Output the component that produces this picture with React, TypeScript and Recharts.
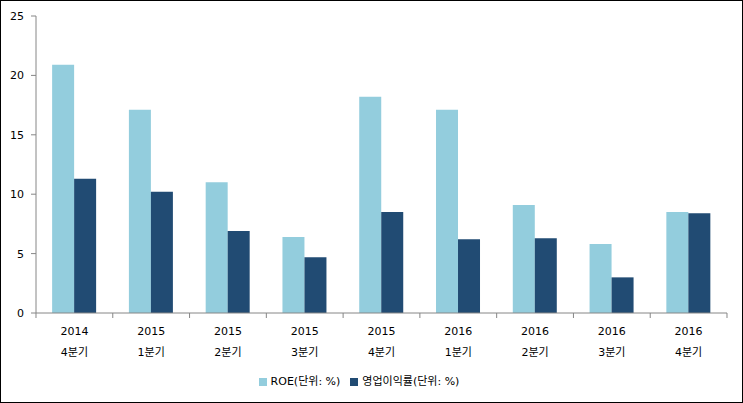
import React from "react";
import {
  BarChart,
  Bar,
  XAxis,
  YAxis,
  Legend,
} from "recharts";

// 분기 라벨 (연도 / 분기)
const years = ["2014", "2015", "2015", "2015", "2015", "2016", "2016", "2016", "2016"];
const quarters = ["4분기", "1분기", "2분기", "3분기", "4분기", "1분기", "2분기", "3분기", "4분기"];

// 값 (단위: %)
const roe = [20.9, 17.1, 11.0, 6.4, 18.2, 17.1, 9.1, 5.8, 8.5];
const opMargin = [11.3, 10.2, 6.9, 4.7, 8.5, 6.2, 6.3, 3.0, 8.4];

const yTicks = [0, 5, 10, 15, 20, 25];

const data = years.map((y, i) => ({
  label: `${y}\n${quarters[i]}`,
  roe: roe[i],
  op: opMargin[i],
}));

const FONT = "'DejaVu Sans', 'Noto Sans CJK KR', sans-serif";
const AXIS = "#868686";

const W = 741;
const H = 401;
const MARGIN = { top: 15, right: 15, left: 0, bottom: 0 };
const Y_W = 35;
const BAND = (W - MARGIN.left - MARGIN.right - Y_W) / years.length;

// 카테고리 경계에 눈금 표시 (엑셀 스타일)
const CategoryTick = ({ x, y, payload, index }: any) => {
  const [yr, q] = String(payload.value).split("\n");
  const last = index === years.length - 1;
  return (
    <g transform={`translate(${x},${y})`}>
      <line x1={-BAND / 2} x2={-BAND / 2} y1={-8} y2={-3} stroke={AXIS} />
      {last && <line x1={BAND / 2} x2={BAND / 2} y1={-8} y2={-3} stroke={AXIS} />}
      <text textAnchor="middle" fontSize={11} fontFamily={FONT} fill="#000">
        <tspan x={0} dy={14}>{yr}</tspan>
        <tspan x={0} dy={21}>{q}</tspan>
      </text>
    </g>
  );
};

const App: React.FC = () => {
  return (
    <div
      style={{
        position: "absolute",
        left: 0,
        top: 0,
        width: 743,
        height: 403,
        border: "1px solid #000",
        boxSizing: "border-box",
        background: "#fff",
      }}
    >
      <BarChart
        width={W}
        height={H}
        data={data}
        margin={MARGIN}
        barCategoryGap="21%"
        barGap={0}
      >
        <XAxis
          dataKey="label"
          tick={<CategoryTick />}
          stroke={AXIS}
          tickLine={false}
          tickSize={8}
          tickMargin={0}
          height={51}
          interval={0}
        />
        <YAxis
          domain={[0, 25]}
          ticks={yTicks}
          width={Y_W}
          stroke={AXIS}
          tickSize={5}
          tickMargin={7}
          tick={{ fontSize: 11, fontFamily: FONT, fill: "#000" }}
          interval={0}
        />
        <Legend
          verticalAlign="bottom"
          height={38}
          iconType="square"
          iconSize={8}
          wrapperStyle={{ top: 371, fontSize: 11, fontFamily: FONT, color: "#000" }}
          formatter={(value: string) => <span style={{ color: "#000" }}>{value}</span>}
        />
        <Bar dataKey="roe" name="ROE(단위: %)" fill="#93CDDD" isAnimationActive={false} />
        <Bar dataKey="op" name="영업이익률(단위: %)" fill="#214B73" isAnimationActive={false} />
      </BarChart>
    </div>
  );
};

export default App;
